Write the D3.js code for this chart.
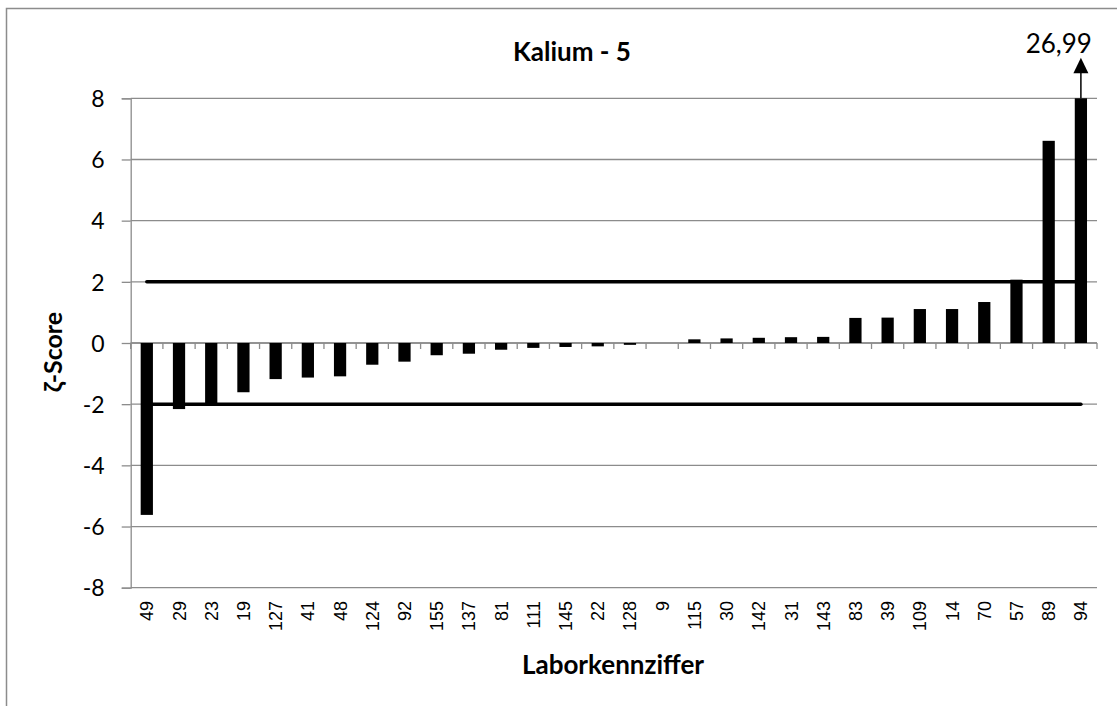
<!DOCTYPE html>
<html>
<head>
<meta charset="utf-8">
<script src="https://cdn.jsdelivr.net/npm/d3@7"></script>
<style>
  html, body { margin: 0; padding: 0; background: #fff; }
  svg { display: block; }
</style>
</head>
<body>
<svg id="chart" width="1117" height="706"></svg>
<script>
const labs = ["49","29","23","19","127","41","48","124","92","155","137","81","111","145","22","128","9","115","30","142","31","143","83","39","109","14","70","57","89","94"];
const scores = [-5.62,-2.16,-1.98,-1.61,-1.18,-1.13,-1.09,-0.71,-0.61,-0.40,-0.35,-0.22,-0.16,-0.13,-0.11,-0.06,0,0.12,0.15,0.17,0.19,0.20,0.82,0.83,1.11,1.11,1.34,2.07,6.61,26.99];
const yTicks = [-8,-6,-4,-2,0,2,4,6,8];
const limits = [2,-2];
const title = "Kalium - 5";
const xTitle = "Laborkennziffer";
const yTitle = "ζ-Score";

const svg = d3.select("#chart");
const W = 1117, H = 706;
const L = 130.7, R = 1097, T = 98.3, B = 587.7;
const calibri = "Lato, 'Open Sans', sans-serif";
const arial = "'Liberation Sans', Arial, sans-serif";
const gridCol = "#8c8c8c";

// outer border
svg.append("rect").attr("x", 6.5).attr("y", 8.5).attr("width", W + 10).attr("height", H + 10)
  .attr("fill", "none").attr("stroke", "#8c8c8c").attr("stroke-width", 1.5);

const x = d3.scaleBand().domain(labs).range([L, R]).paddingInner(0.62).paddingOuter(0.31);
const xc = d => x(d) + x.bandwidth() / 2;
const y = d3.scaleLinear().domain([-8, 8]).range([B, T]);
const step = (R - L) / labs.length;

// gridlines
svg.append("g").selectAll("line").data(yTicks).join("line")
  .attr("x1", L).attr("x2", R).attr("y1", d => y(d)).attr("y2", d => y(d))
  .attr("stroke", gridCol).attr("stroke-width", 1.3);

// y axis
const yAxis = svg.append("g").attr("transform", `translate(${L},0)`)
  .call(d3.axisLeft(y).tickValues(yTicks).tickSize(9).tickPadding(17).tickFormat(d3.format("d")));
yAxis.select(".domain").attr("stroke", gridCol).attr("stroke-width", 1.3);
yAxis.selectAll(".tick line").attr("stroke", gridCol).attr("stroke-width", 1.3);
yAxis.selectAll(".tick text").attr("font-family", calibri).attr("font-size", 23).attr("fill", "#000")
  .attr("dy", "0.36em")
  .text(d => d < 0 ? "-" + Math.abs(d) : d);

// x axis at zero
const xAxisG = svg.append("g").attr("transform", `translate(0,${y(0)})`);
xAxisG.append("line").attr("x1", L).attr("x2", R).attr("stroke", gridCol).attr("stroke-width", 1.3);
xAxisG.selectAll("line.tk").data(d3.range(labs.length + 1)).join("line").attr("class", "tk")
  .attr("x1", i => L + i * step).attr("x2", i => L + i * step).attr("y1", 0).attr("y2", 6)
  .attr("stroke", gridCol).attr("stroke-width", 1.3);

// x labels at bottom
svg.append("g").selectAll("text").data(labs).join("text")
  .attr("transform", d => `translate(${xc(d) + 6.5},${601}) rotate(-90)`)
  .attr("text-anchor", "end").attr("font-family", arial).attr("font-size", 18).attr("fill", "#000")
  .text(d => d);

// bars
const clip = v => Math.max(-8, Math.min(8, v));
svg.append("g").selectAll("rect").data(labs.map((l, i) => ({ l, v: scores[i] }))).join("rect")
  .attr("x", d => x(d.l)).attr("width", x.bandwidth())
  .attr("y", d => y(Math.max(0, clip(d.v))))
  .attr("height", d => Math.abs(y(clip(d.v)) - y(0)))
  .attr("fill", "#000");

// limit lines
svg.append("g").selectAll("line").data(limits).join("line")
  .attr("x1", xc(labs[0])).attr("x2", xc(labs[labs.length - 1]))
  .attr("y1", d => y(d)).attr("y2", d => y(d))
  .attr("stroke", "#000").attr("stroke-width", 3.5).attr("stroke-linecap", "round");

// overflow arrow
labs.forEach((l, i) => {
  const v = scores[i];
  if (v > 8) {
    const cx = xc(l), top = y(8);
    svg.append("line").attr("x1", cx).attr("x2", cx).attr("y1", top).attr("y2", top - 28)
      .attr("stroke", "#000").attr("stroke-width", 1.5);
    svg.append("path").attr("d", `M${cx},${top - 40.5} L${cx - 7.5},${top - 25} L${cx + 7.5},${top - 25} Z`)
      .attr("fill", "#000");
    svg.append("text").attr("x", cx + 11).attr("y", top - 45).attr("text-anchor", "end")
      .attr("font-family", calibri).attr("font-size", 26).attr("fill", "#000")
      .text(d3.format(".2f")(v).replace(".", ","));
  }
});

// titles
svg.append("text").attr("x", 572).attr("y", 61).attr("text-anchor", "middle")
  .attr("font-family", calibri).attr("font-weight", "bold").attr("font-size", 26).attr("fill", "#000").text(title);
svg.append("text").attr("x", 613).attr("y", 674).attr("text-anchor", "middle")
  .attr("font-family", calibri).attr("font-weight", "bold").attr("font-size", 26).attr("fill", "#000").text(xTitle);
svg.append("text").attr("transform", `translate(62,352) rotate(-90)`).attr("text-anchor", "middle")
  .attr("font-family", calibri).attr("font-weight", "bold").attr("font-size", 25).attr("fill", "#000").text(yTitle);
</script>
</body>
</html>
